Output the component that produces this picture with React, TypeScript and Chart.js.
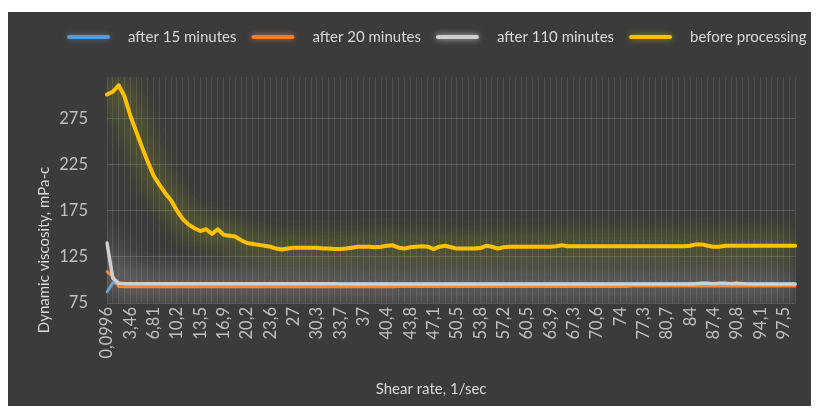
import React, { useEffect, useRef } from 'react';
import { Chart, registerables } from 'chart.js';

Chart.register(...registerables);

// Shear-rate labels shown on the category axis (one every POINTS_PER_TICK samples)
const shearRateTicks = [
  '0,0996', '3,46', '6,81', '10,2', '13,5', '16,9', '20,2', '23,6', '27', '30,3',
  '33,7', '37', '40,4', '43,8', '47,1', '50,5', '53,8', '57,2', '60,5', '63,9',
  '67,3', '70,6', '74', '77,3', '80,7', '84', '87,4', '90,8', '94,1', '97,5',
];
const POINTS_PER_TICK = 4;

const yTicks = [75, 125, 175, 225, 275];

// Dynamic viscosity, mPa·s
const after15 = [
  87, 97, 96.5, 96, 96, 96, 96, 96, 96, 96,
  96, 96, 96, 96, 96, 96, 96, 96, 96, 96,
  96, 96, 96, 96, 96, 96, 96, 96, 96, 96,
  96, 96, 96, 96, 96, 96, 96, 96, 96, 96,
  95.5, 95.5, 95.5, 95.5, 95.5, 95.5, 95.5, 95.5, 95.5, 95.5,
  95.5, 95.5, 95.5, 95.5, 95.5, 95.5, 95.5, 95.5, 95.5, 95.5,
  95.5, 95.5, 95.5, 95.5, 95.5, 95.5, 95.5, 95.5, 95.5, 95.5,
  95.5, 95.5, 95.5, 95.5, 95.5, 95.5, 95.5, 95.5, 95.5, 95.5,
  95.5, 95.5, 95.5, 95.5, 95.5, 95.5, 95.5, 95.5, 95.5, 95.5,
  95.5, 95.5, 95.5, 95.5, 95.5, 95.5, 95.5, 95.5, 95.5, 95.5,
  95.5, 95.5, 95.5, 95.5, 95.5, 95.5, 95.5, 95.5, 95.5, 95.5,
  95.5, 95.5, 95.5, 95.5, 95.5, 95.5, 95.5, 95.5, 95.5,
];

const after20 = [
  109, 104, 93, 92.5, 92.5, 92.5, 92.5, 92.5, 92.5, 92.5,
  92.5, 92.5, 92.5, 92.5, 92.5, 92.5, 92.5, 92.5, 92.5, 92.5,
  92.5, 92.5, 92.5, 92.5, 92.5, 92.5, 92.5, 92.5, 92.5, 92.5,
  92.5, 92.5, 92.5, 92.5, 92.5, 92.5, 92.5, 92.5, 92.5, 92.5,
  92.5, 92.5, 92.5, 92.5, 92.5, 92.5, 92.5, 92.5, 92.5, 92.5,
  93, 93, 93, 93, 93, 93, 93, 93, 93, 93,
  93, 93, 93, 93, 93, 93, 93, 93, 93, 93,
  93, 93, 93, 93, 93, 93, 93, 93, 93, 93,
  93, 93, 93, 93, 93, 93, 93, 93, 93, 93,
  93.5, 93.5, 93.5, 93.5, 93.5, 93.5, 93.5, 93.5, 93.5, 93.5,
  93.5, 93.5, 93.5, 93.5, 93.5, 93.5, 93.5, 93.5, 93.5, 93.5,
  93.5, 93.5, 93.5, 93.5, 93.5, 93.5, 93.5, 93.5, 93.5,
];

const after110 = [
  140, 102, 96.5, 96, 96, 96, 96, 96, 96, 96,
  96, 96, 96, 96, 96, 96, 96, 96, 96, 96,
  96, 96, 96, 96, 96, 96, 96, 96, 96, 96,
  96, 96, 96, 96, 96, 96, 96, 96, 96, 96,
  95.5, 95.5, 95.5, 95.5, 95.5, 95.5, 95.5, 95.5, 95.5, 95.5,
  95.5, 95.5, 95.5, 95.5, 95.5, 95.5, 95.5, 95.5, 95.5, 95.5,
  95.5, 95.5, 95.5, 95.5, 95.5, 95.5, 95.5, 95.5, 95.5, 95.5,
  95.5, 95.5, 95.5, 95.5, 95.5, 95.5, 95.5, 95.5, 95.5, 95.5,
  95.5, 95.5, 95.5, 95.5, 95.5, 95.5, 95.5, 95.5, 95.5, 95.5,
  95.5, 95.5, 95.5, 95.5, 95.5, 95.5, 95.5, 95.5, 95.5, 95.5,
  95.5, 96, 96.5, 96.5, 96, 96.5, 96.5, 96, 96.5, 96,
  95.5, 95.5, 95.5, 95.5, 95.5, 95.5, 95.5, 95.5, 95.5,
];

const beforeProcessing = [
  301, 304, 311, 299, 278, 261, 244, 228, 213, 203,
  194, 186, 175, 166, 160, 156, 153, 155, 150, 155,
  149, 148, 147, 143, 140, 139, 138, 137, 136, 134,
  133, 134, 135, 135, 135, 135, 135, 134, 134, 133.5,
  133.5, 134, 135, 136, 136, 136, 135.5, 136, 137, 137.5,
  135, 134, 135.5, 136, 136.5, 136, 133.5, 136, 137, 135.5,
  134, 134, 134, 134, 134.5, 137, 136, 134, 135.5, 136,
  136, 136, 136, 136, 136, 136, 136, 136.5, 137.5, 136.5,
  136.5, 136.5, 136.5, 136.5, 136.5, 136.5, 136.5, 136.5, 136.5, 136.5,
  136.5, 136.5, 136.5, 136.5, 136.5, 136.5, 136.5, 136.5, 136.5, 136.5,
  137, 138.5, 138.5, 137, 136, 136, 137, 137, 137, 137,
  137, 137, 137, 137, 137, 137, 137, 137, 137,
];

const FONT = 'Lato, "Open Sans", sans-serif';
const TEXT = '#d9d9d9';
const TICK_TEXT = '#c0c0c0';
const BG = '#3b3b3b';

type Glow = { color: string; blur: number; passes: number };

// Soft glow under every series: the line is drawn far off-canvas and only its
// shadow is shifted back into the plot area, a few times to build up intensity.
const glowPlugin = {
  id: 'seriesGlow',
  beforeDatasetDraw(chart: any, args: any) {
    const ds: any = chart.data.datasets[args.index];
    const g: Glow | undefined = ds.glow;
    if (!g) return;
    const ctx = chart.ctx as CanvasRenderingContext2D;
    const a = chart.chartArea;
    const SHIFT = 5000;
    ctx.save();
    ctx.beginPath();
    ctx.rect(a.left, a.top, a.right - a.left, a.bottom - a.top);
    ctx.clip();
    ctx.translate(0, -SHIFT);
    ctx.shadowOffsetY = SHIFT;
    ctx.shadowColor = g.color;
    ctx.shadowBlur = g.blur;
    for (let k = 0; k < g.passes; k++) {
      args.meta.dataset.draw(ctx, a);
    }
    ctx.restore();
  },
};

// Background, legend row and axis titles
const decorPlugin = {
  id: 'decor',
  beforeDraw(chart: any) {
    const ctx = chart.ctx as CanvasRenderingContext2D;
    ctx.save();
    ctx.fillStyle = BG;
    ctx.fillRect(0, 0, chart.width, chart.height);
    ctx.restore();
  },
  afterDraw(chart: any) {
    const ctx = chart.ctx as CanvasRenderingContext2D;
    const area = chart.chartArea;
    ctx.save();
    ctx.font = `15px ${FONT}`;
    ctx.textBaseline = 'middle';

    // legend
    let x = 59;
    const y = 25;
    chart.data.datasets.forEach((ds: any) => {
      ctx.save();
      ctx.strokeStyle = ds.borderColor;
      ctx.lineWidth = 4;
      ctx.lineCap = 'round';
      ctx.shadowColor = ds.glow ? ds.glow.color : 'transparent';
      ctx.shadowBlur = 6;
      ctx.beginPath();
      ctx.moveTo(x + 2, y);
      ctx.lineTo(x + 41, y);
      ctx.stroke();
      ctx.restore();
      x += 43 + 18;
      ctx.fillStyle = TEXT;
      ctx.textAlign = 'left';
      ctx.fillText(ds.label, x, y);
      x += ctx.measureText(ds.label).width + 15;
    });

    // axis titles
    ctx.fillStyle = TEXT;
    ctx.textAlign = 'center';
    ctx.fillText('Shear rate, 1/sec', area.left + (area.right - area.left) / 2 - 20, 377);

    ctx.translate(36.5, 238);
    ctx.rotate(-Math.PI / 2);
    ctx.fillText('Dynamic viscosity, mPa-c', 0, 0);
    ctx.restore();
  },
};

export default function App() {
  const canvasRef = useRef<HTMLCanvasElement | null>(null);

  useEffect(() => {
    if (!canvasRef.current) return;
    const labels = beforeProcessing.map((_, i) => i);

    const chart = new Chart(canvasRef.current, {
      type: 'line',
      data: {
        labels,
        datasets: [
          {
            label: 'after 15 minutes',
            data: after15,
            borderColor: '#5B9BD5',
            borderWidth: 3,
            order: 3,
            glow: { color: 'rgba(150,170,200,0.5)', blur: 30, passes: 1 },
          } as any,
          {
            label: 'after 20 minutes',
            data: after20,
            borderColor: '#ED7D31',
            borderWidth: 3,
            order: 2,
            glow: { color: 'rgba(230,170,130,0.6)', blur: 30, passes: 1 },
          },
          {
            label: 'after 110 minutes',
            data: after110,
            borderColor: '#CFCFCF',
            borderWidth: 3.5,
            order: 1,
            glow: { color: 'rgba(230,225,220,0.8)', blur: 32, passes: 2 },
          },
          {
            label: 'before processing',
            data: beforeProcessing,
            borderColor: '#FFC000',
            borderWidth: 4,
            order: 0,
            glow: { color: 'rgba(160,170,30,0.85)', blur: 26, passes: 2 },
          },
        ],
      },
      options: {
        animation: false,
        responsive: false,
        maintainAspectRatio: false,
        layout: { padding: { top: 65, left: 0, right: 7, bottom: 0 } },
        elements: {
          point: { radius: 0 },
          line: { tension: 0, borderJoinStyle: 'round', borderCapStyle: 'round' },
        },
        plugins: {
          legend: { display: false },
          tooltip: { enabled: false },
        },
        scales: {
          x: {
            type: 'category',
            offset: false,
            border: { display: false },
            grid: { color: 'rgba(255,255,255,0.1)', drawTicks: false, lineWidth: 1 },
            ticks: {
              autoSkip: false,
              minRotation: 90,
              maxRotation: 90,
              padding: 4,
              color: TICK_TEXT,
              font: { family: FONT, size: 16.5 },
              callback: (_v: any, i: number) =>
                i % POINTS_PER_TICK === 0 ? shearRateTicks[i / POINTS_PER_TICK] ?? '' : '',
            },
            afterFit: (scale: any) => {
              scale.height = 107;
            },
          },
          y: {
            min: 75,
            max: 320,
            border: { display: false },
            grid: { color: 'rgba(255,255,255,0.15)', drawTicks: false, lineWidth: 1 },
            ticks: {
              padding: 19,
              color: TICK_TEXT,
              font: { family: FONT, size: 16.5 },
            },
            afterBuildTicks: (scale: any) => {
              scale.ticks = yTicks.map((v) => ({ value: v }));
            },
            afterFit: (scale: any) => {
              scale.width = 99;
            },
          },
        },
      },
      plugins: [decorPlugin, glowPlugin],
    });

    return () => chart.destroy();
  }, []);

  return (
    <div style={{ position: 'relative', top: 4, width: 811, height: 398 }}>
      <canvas ref={canvasRef} width={811} height={398} style={{ display: 'block' }} />
    </div>
  );
}
